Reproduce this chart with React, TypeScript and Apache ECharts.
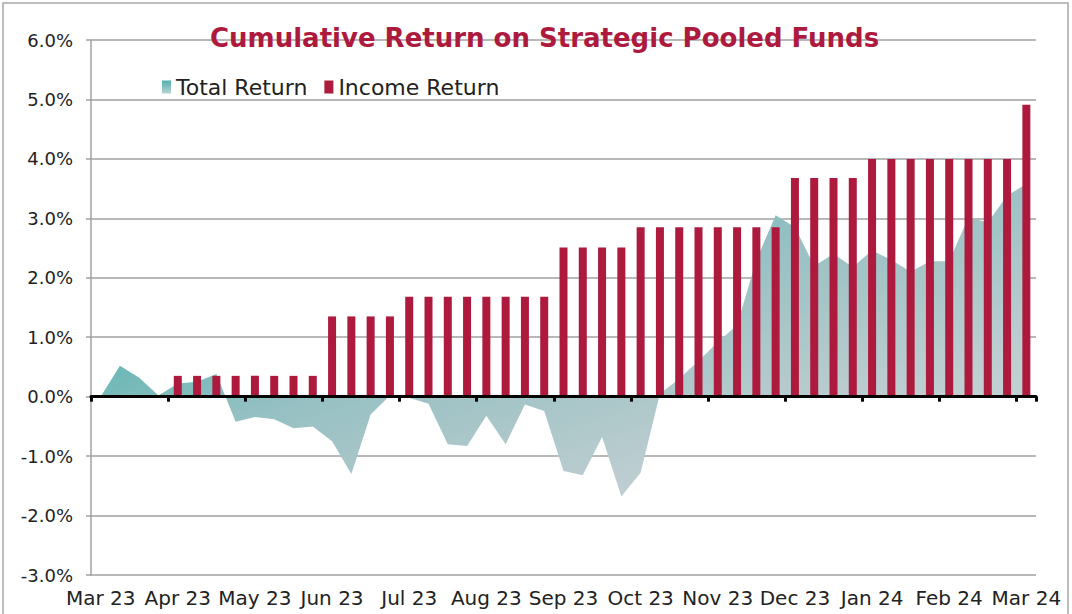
import React, { useEffect, useRef } from "react";
import * as echarts from "echarts";

const monthLabels = [
  "Mar 23", "Apr 23", "May 23", "Jun 23", "Jul 23", "Aug 23", "Sep 23",
  "Oct 23", "Nov 23", "Dec 23", "Jan 24", "Feb 24", "Mar 24",
];

// four points per month, last month has one point
const categories = monthLabels
  .flatMap((m) => ["W1", "W2", "W3", "W4"].map((w) => `${m} ${w}`))
  .slice(0, 49);

const totalReturn = [
  0.0, 0.52, 0.32, 0.02,
  0.22, 0.25, 0.38, -0.42,
  -0.34, -0.38, -0.53, -0.5,
  -0.75, -1.3, -0.3, 0.02,
  -0.02, -0.12, -0.8, -0.83,
  -0.32, -0.8, -0.13, -0.24,
  -1.25, -1.32, -0.68, -1.68,
  -1.28, 0.05, 0.3, 0.6,
  0.92, 1.2, 2.3, 3.05,
  2.85, 2.2, 2.4, 2.18,
  2.46, 2.3, 2.1, 2.28,
  2.28, 3.02, 2.93, 3.38,
  3.58,
];

const incomeReturn = [
  null, null, null, null,
  0.35, 0.35, 0.35, 0.35,
  0.35, 0.35, 0.35, 0.35,
  1.35, 1.35, 1.35, 1.35,
  1.68, 1.68, 1.68, 1.68,
  1.68, 1.68, 1.68, 1.68,
  2.51, 2.51, 2.51, 2.51,
  2.85, 2.85, 2.85, 2.85,
  2.85, 2.85, 2.85, 2.85,
  3.68, 3.68, 3.68, 3.68,
  4.0, 4.0, 4.0, 4.0,
  4.0, 4.0, 4.0, 4.0,
  4.91,
];

const CRIMSON = "#ad1a3e";
const FONT = "DejaVu Sans";

export default function App() {
  const ref = useRef<HTMLDivElement>(null);

  useEffect(() => {
    if (!ref.current) return;
    const chart = echarts.init(ref.current, null, { renderer: "svg" });

    const areaGradient = new echarts.graphic.LinearGradient(0, 0, 1, 1, [
      { offset: 0, color: "#4fb0ae" },
      { offset: 0.3, color: "#6cb8b6" },
      { offset: 0.45, color: "#95c0c3" },
      { offset: 0.6, color: "#a9c6c8" },
      { offset: 0.75, color: "#bccdd0" },
      { offset: 1, color: "#cdd8da" },
    ]);
    const legendGradient = new echarts.graphic.LinearGradient(0, 0, 0, 1, [
      { offset: 0, color: "#4fb0ae" },
      { offset: 1, color: "#b9d2d4" },
    ]);

    chart.setOption({
      animation: false,
      backgroundColor: "#ffffff",
      textStyle: { fontFamily: FONT },
      title: {
        text: "Cumulative Return on Strategic Pooled Funds",
        left: 205,
        top: 20,
        textStyle: {
          color: CRIMSON,
          fontSize: 26,
          fontWeight: "bold",
          fontFamily: FONT,
        },
      },
      legend: {
        left: 157,
        top: 71,
        itemWidth: 9,
        itemHeight: 13,
        itemGap: 17,
        icon: "rect",
        textStyle: { fontSize: 22, color: "#222", fontFamily: FONT },
        data: [
          { name: "Total Return", icon: "rect", itemStyle: { color: legendGradient } },
          { name: "Income Return", icon: "rect", itemStyle: { color: CRIMSON } },
        ],
      },
      graphic: [
        {
          type: "rect",
          shape: { x: 3, y: 3, width: 1065, height: 640 },
          style: { fill: "none", stroke: "#a8a8a8", lineWidth: 1.5 },
          silent: true,
        },
      ],
      grid: { left: 91, right: 36, top: 40, bottom: 39 },
      xAxis: [
        {
          type: "category",
          data: categories,
          position: "bottom",
          boundaryGap: true,
          axisLine: { show: false, onZero: false },
          axisTick: { show: false },
          splitLine: { show: false },
          axisLabel: {
            interval: 3,
            margin: 13,
            fontSize: 20,
            color: "#222",
            fontFamily: FONT,
            formatter: (_v: string, i: number) => monthLabels[Math.floor(i / 4)],
          },
        },
        {
          type: "category",
          data: categories,
          position: "bottom",
          boundaryGap: true,
          z: 5,
          axisLine: { show: true, onZero: true, lineStyle: { color: "#000", width: 3 } },
          axisTick: { show: true, interval: 3, length: 5, lineStyle: { color: "#000", width: 3 } },
          axisLabel: { show: false },
          splitLine: { show: false },
        },
      ],
      yAxis: {
        type: "value",
        min: -3,
        max: 6,
        interval: 1,
        axisLine: { show: true, lineStyle: { color: "#a0a0a0", width: 1.5 } },
        axisTick: { show: true, length: 5, lineStyle: { color: "#a0a0a0", width: 1.5 } },
        splitLine: { show: true, lineStyle: { color: "#a0a0a0", width: 1.5 } },
        axisLabel: {
          margin: 18,
          fontSize: 18,
          color: "#222",
          fontFamily: FONT,
          formatter: (v: number) => v.toFixed(1) + "%",
        },
      },
      series: [
        {
          name: "Total Return",
          type: "line",
          data: totalReturn,
          xAxisIndex: 0,
          symbol: "none",
          lineStyle: { width: 0 },
          areaStyle: { color: areaGradient, opacity: 1 },
          itemStyle: { color: "#6cb8b6" },
          z: 1,
        },
        {
          name: "Income Return",
          type: "bar",
          data: incomeReturn,
          xAxisIndex: 0,
          barWidth: 8,
          itemStyle: { color: CRIMSON },
          z: 3,
        },
      ],
    });

    return () => chart.dispose();
  }, []);

  return (
    <div
      ref={ref}
      style={{ position: "absolute", left: 0, top: 0, width: 1072, height: 614 }}
    />
  );
}
